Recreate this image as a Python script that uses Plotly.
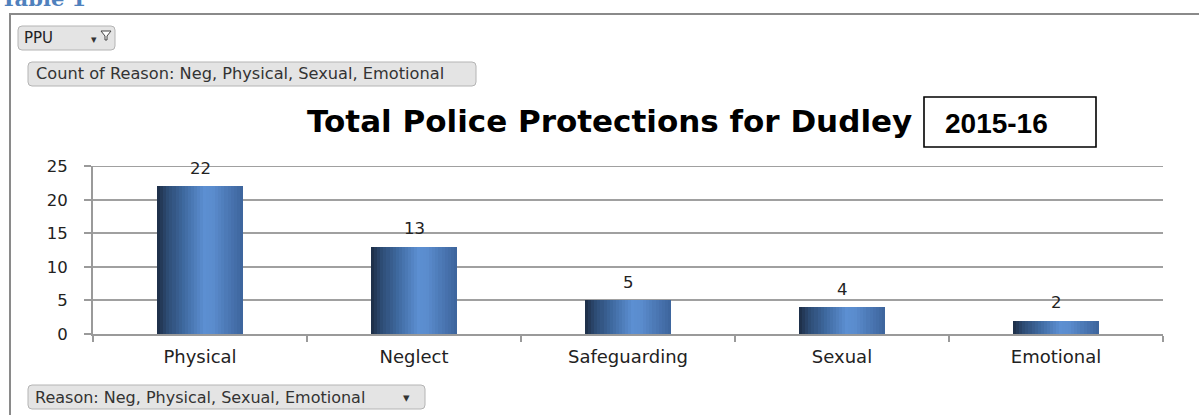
import numpy as np
import plotly.graph_objects as go

# Chart data
categories = ["Physical", "Neglect", "Safeguarding", "Sexual", "Emotional"]
counts = [22, 13, 5, 4, 2]
y_ticks = [0, 5, 10, 15, 20, 25]

chart_title = "Total Police Protections for Dudley"
period_label = "2015-16"
table_caption = "Table 1"
filter_label = "PPU"
value_field_label = "Count of Reason: Neg, Physical, Sexual, Emotional"
axis_field_label = "Reason: Neg, Physical, Sexual, Emotional"

W, H = 1199, 415


def X(p):
    return p / W


def Y(p):
    return 1 - p / H


def rounded_rect(x0, y0, x1, y1, r):
    """SVG path of a rounded rectangle, given in pixels, returned in paper units."""
    rx, ry = r / W, r / H
    a, b, c, d = X(x0), Y(y0), X(x1), Y(y1)
    return (f"M{a+rx},{b} L{c-rx},{b} Q{c},{b} {c},{b-ry} "
            f"L{c},{d+ry} Q{c},{d} {c-rx},{d} L{a+rx},{d} "
            f"Q{a},{d} {a},{d+ry} L{a},{b-ry} Q{a},{b} {a+rx},{b} Z")


# Horizontal shading of each column, built from thin overlaid strips
stops = [
    (0.00, (28, 44, 68)),
    (0.12, (45, 75, 115)),
    (0.30, (62, 104, 158)),
    (0.55, (92, 143, 210)),
    (0.66, (90, 140, 205)),
    (0.86, (72, 115, 175)),
    (1.00, (60, 100, 155)),
]
pos = [s[0] for s in stops]
rgb = np.array([s[1] for s in stops], dtype=float)

bar_width = 0.40
n_strips = 28
step = bar_width / n_strips

fig = go.Figure()
for i in range(n_strips):
    t = (i + 0.5) / n_strips
    col = [np.interp(t, pos, rgb[:, k]) for k in range(3)]
    colour = f"rgb({col[0]:.0f},{col[1]:.0f},{col[2]:.0f})"
    fig.add_trace(go.Bar(
        x=categories,
        y=counts,
        width=step * 1.15,
        offset=-bar_width / 2 + i * step,
        marker=dict(color=colour, line=dict(width=0)),
        showlegend=False,
        hovertemplate="%{x}: %{y}<extra></extra>",
    ))

# Value labels above the columns
annotations = []
for cat, val in zip(categories, counts):
    annotations.append(dict(
        x=cat, y=val, xref="x", yref="y", text=str(val), showarrow=False,
        yshift=18, yanchor="middle",
        font=dict(family="DejaVu Sans", size=16.5, color="#222222"),
    ))

# Title, period box text and pivot field buttons
annotations += [
    dict(x=X(609), y=Y(121), xref="paper", yref="paper", text=f"<b>{chart_title}</b>",
         showarrow=False, xanchor="center", yanchor="middle",
         font=dict(family="DejaVu Sans", size=31, color="#000000")),
    dict(x=X(943), y=Y(123), xref="paper", yref="paper", text=f"<b>{period_label}</b>",
         showarrow=False, xanchor="left", yanchor="middle",
         font=dict(family="Liberation Sans", size=28, color="#000000")),
    dict(x=X(-1), y=Y(13), xref="paper", yref="paper", text=f"<b>{table_caption}</b>",
         showarrow=False, xanchor="left", yanchor="bottom",
         font=dict(family="DejaVu Serif", size=21, color="#4F81BD")),
    dict(x=X(22), y=Y(38), xref="paper", yref="paper", text=filter_label,
         showarrow=False, xanchor="left", yanchor="middle",
         font=dict(family="DejaVu Sans", size=15, color="#222222")),
    dict(x=X(94), y=Y(40), xref="paper", yref="paper", text="▾",
         showarrow=False, xanchor="center", yanchor="middle",
         font=dict(family="DejaVu Sans", size=11, color="#333333")),
    dict(x=X(34), y=Y(74), xref="paper", yref="paper", text=value_field_label,
         showarrow=False, xanchor="left", yanchor="middle",
         font=dict(family="DejaVu Sans", size=16.2, color="#333333")),
    dict(x=X(33), y=Y(397), xref="paper", yref="paper", text=axis_field_label,
         showarrow=False, xanchor="left", yanchor="middle",
         font=dict(family="DejaVu Sans", size=16, color="#333333")),
    dict(x=X(406), y=Y(397), xref="paper", yref="paper", text="▾",
         showarrow=False, xanchor="center", yanchor="middle",
         font=dict(family="DejaVu Sans", size=13, color="#333333")),
]

shapes = [
    # outer frame (left and top edges)
    dict(type="path", xref="paper", yref="paper",
         path=f"M{X(10)},{Y(H+5)} L{X(10)},{Y(14)} L{X(W+5)},{Y(14)}",
         line=dict(color="#8a8a8a", width=2)),
    # top gridline at the last tick value
    dict(type="line", xref="paper", yref="y", layer="below",
         x0=X(93), x1=X(1163), y0=y_ticks[-1], y1=y_ticks[-1],
         line=dict(color="#a0a0a0", width=1.5)),
    # period box
    dict(type="rect", xref="paper", yref="paper",
         x0=X(924), x1=X(1096), y0=Y(147), y1=Y(97),
         line=dict(color="#000000", width=1.6), fillcolor="rgba(0,0,0,0)"),
    # field buttons
    dict(type="path", xref="paper", yref="paper", path=rounded_rect(18, 26, 115, 50, 4),
         line=dict(color="#b4b4b4", width=1), fillcolor="#e4e4e4"),
    dict(type="path", xref="paper", yref="paper", path=rounded_rect(28, 62, 476, 86, 4),
         line=dict(color="#b4b4b4", width=1), fillcolor="#e4e4e4"),
    dict(type="path", xref="paper", yref="paper", path=rounded_rect(28, 385, 425, 409, 4),
         line=dict(color="#b4b4b4", width=1), fillcolor="#e4e4e4"),
    # funnel glyph on the filter button
    dict(type="path", xref="paper", yref="paper",
         path=(f"M{X(101)},{Y(31)} L{X(111)},{Y(31)} L{X(107)},{Y(36)} "
               f"L{X(107)},{Y(40)} L{X(105)},{Y(40)} L{X(105)},{Y(36)} Z"),
         line=dict(color="#444444", width=1), fillcolor="#ffffff"),
]

fig.update_layout(
    width=W, height=H,
    margin=dict(l=0, r=0, t=0, b=0, autoexpand=False),
    paper_bgcolor="#ffffff", plot_bgcolor="#ffffff",
    barmode="overlay", bargap=0,
    annotations=annotations, shapes=shapes,
    showlegend=False,
)
fig.update_xaxes(
    domain=[X(93), X(1163)], automargin=False,
    type="category", range=[-0.5, len(categories) - 0.5],
    showline=True, linecolor="#9a9a9a", linewidth=2,
    ticks="outside", tickson="boundaries", ticklen=6, tickcolor="#9a9a9a", tickwidth=2,
    showgrid=False,
    tickfont=dict(family="DejaVu Sans", size=18, color="#222222"),
    ticklabelstandoff=5,
)
fig.update_yaxes(
    domain=[Y(334), Y(166)], automargin=False,
    range=[0, 25.04], tickvals=y_ticks,
    showline=True, linecolor="#9a9a9a", linewidth=2,
    ticks="outside", ticklen=7, tickcolor="#9a9a9a", tickwidth=2,
    showgrid=True, gridcolor="#a0a0a0", gridwidth=1.5,
    zeroline=False,
    tickfont=dict(family="DejaVu Sans", size=16.5, color="#222222"),
    ticklabelstandoff=13,
)

fig.write_html("out.html")
